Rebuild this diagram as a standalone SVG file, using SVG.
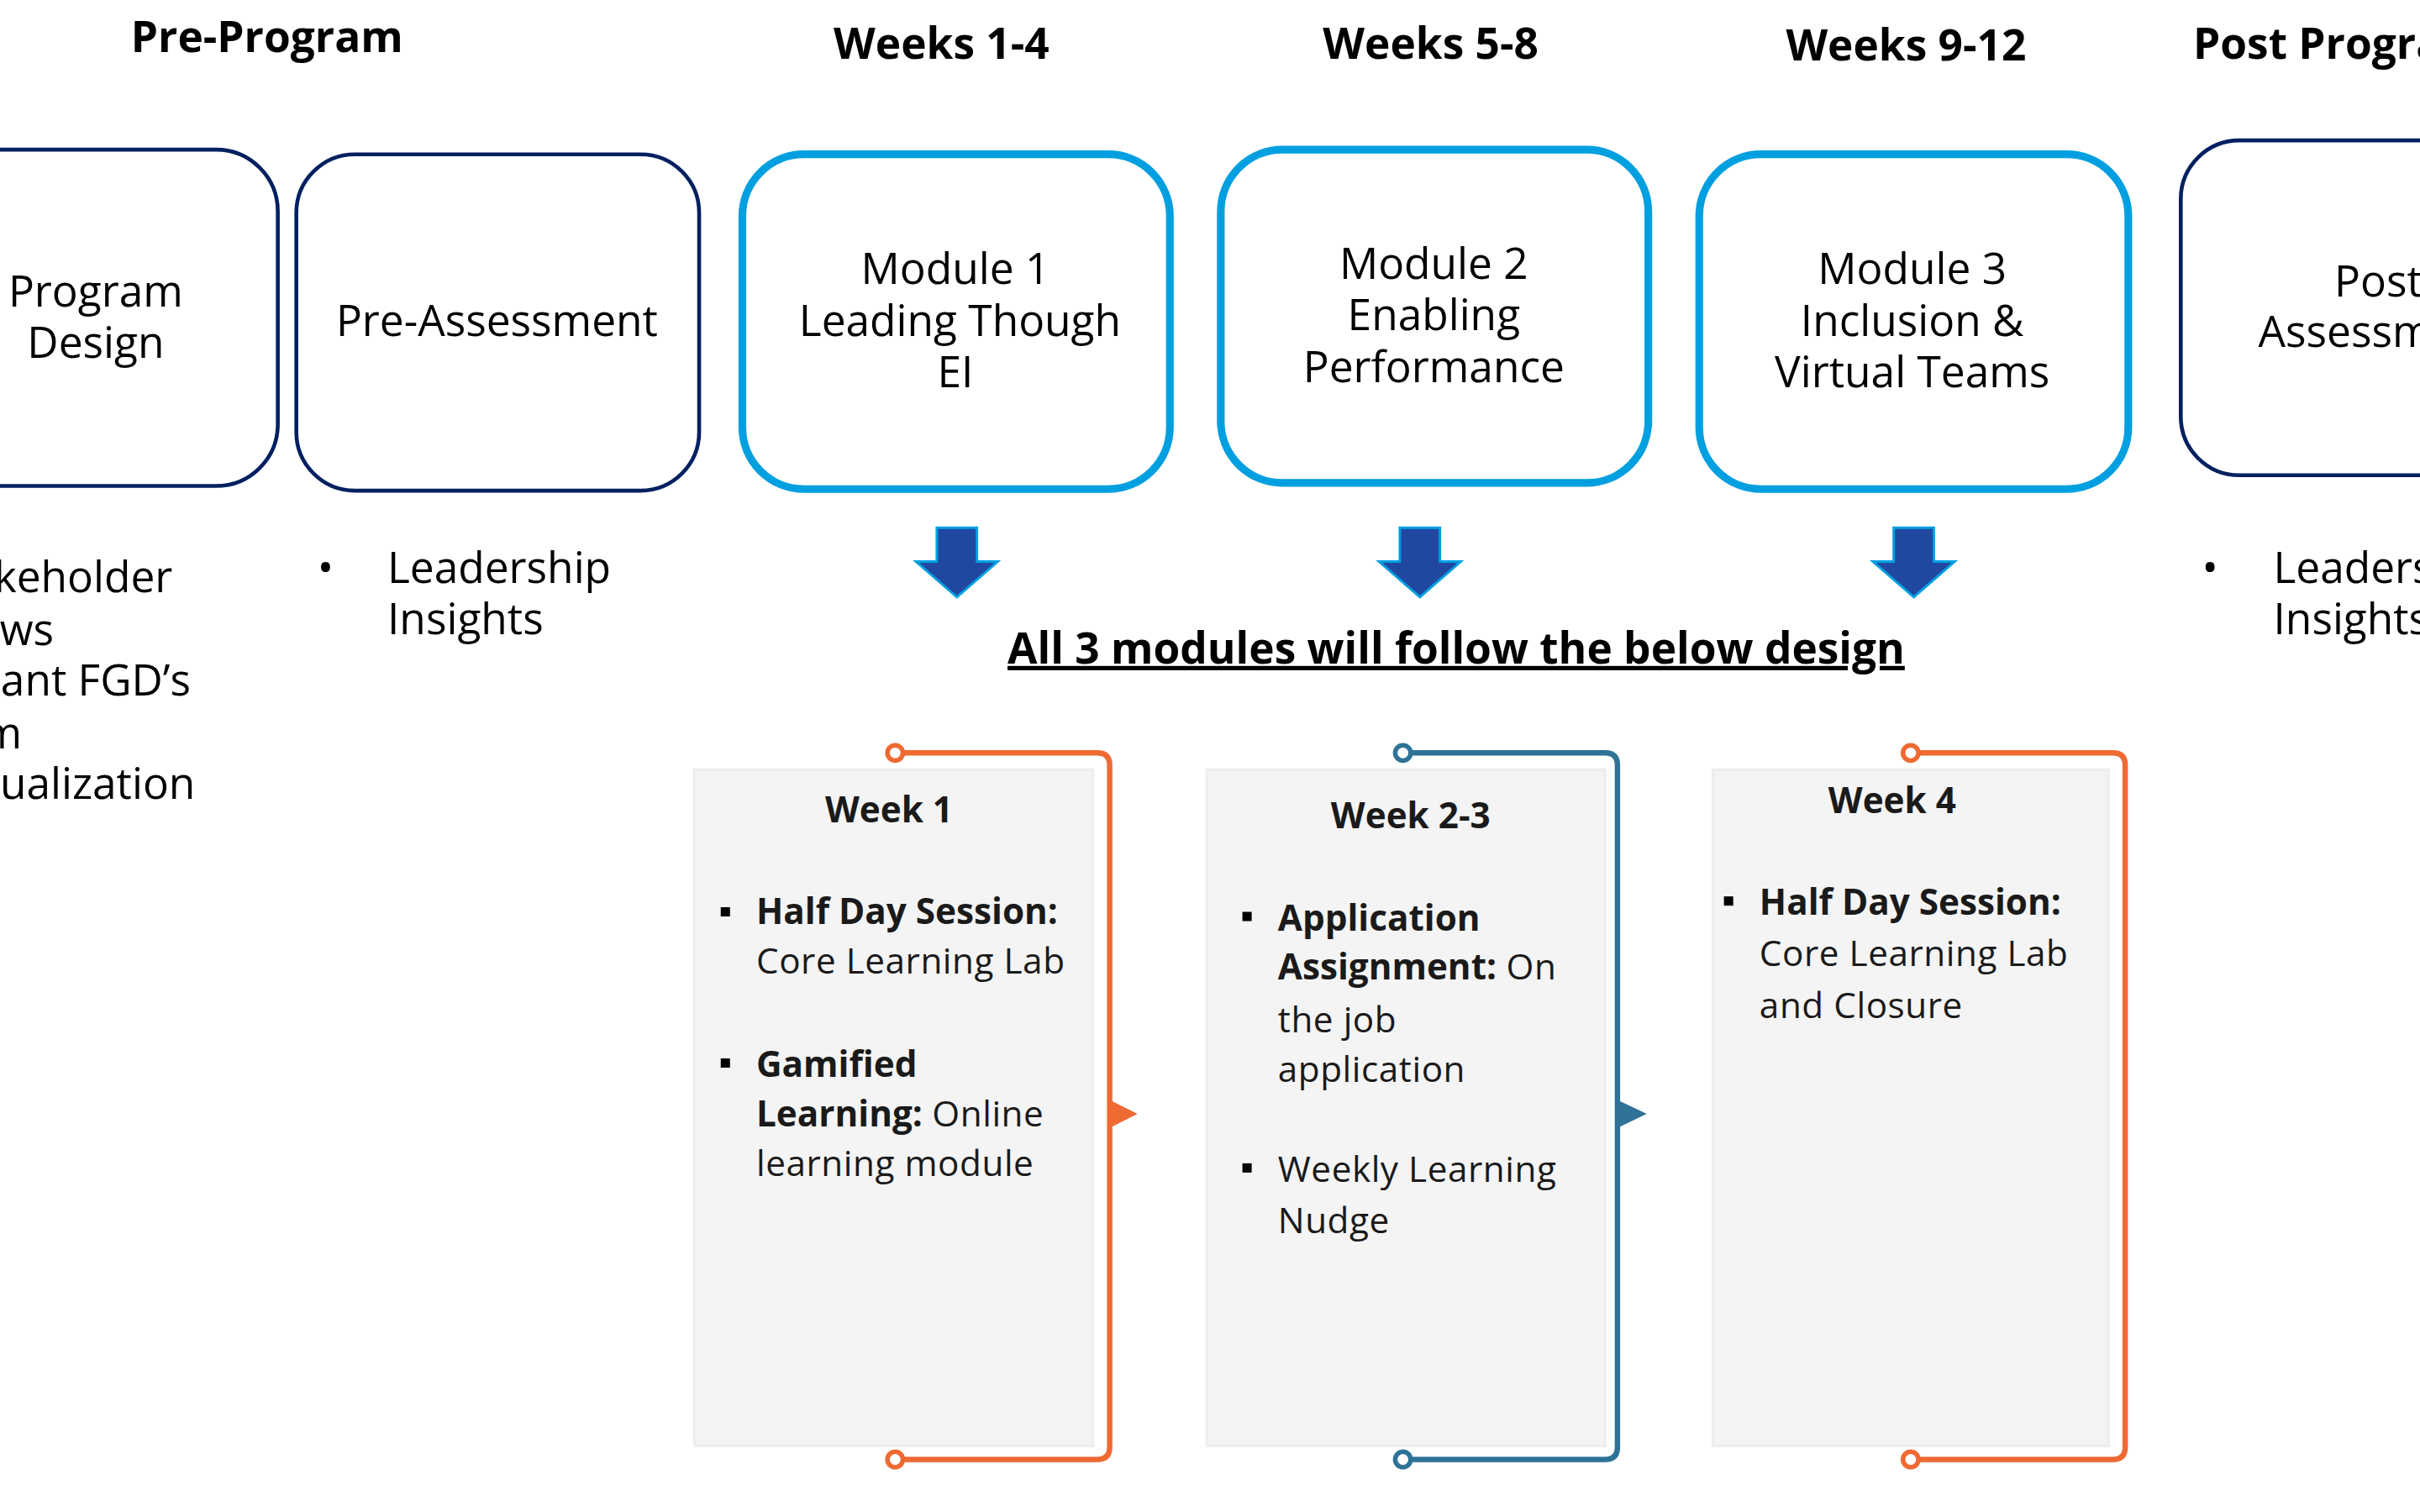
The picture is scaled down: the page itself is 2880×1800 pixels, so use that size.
<svg xmlns="http://www.w3.org/2000/svg" width="2880" height="1800" viewBox="0 0 2880 1800">
<style>
text{font-family:"Open Sans","Liberation Sans",sans-serif;fill:#000}
.hd{font-size:28px;font-weight:700}
.bx{font-size:28px}
.ct{font-size:23px;fill:#1a1a1a;letter-spacing:0.3px}
.b{font-weight:700;letter-spacing:0}
.navy{fill:#fff;stroke:#002060;stroke-width:2.5}
.mod{fill:#fff;stroke:#009FE0;stroke-width:5}
.arr{fill:#2148A0;stroke:#00A0E3;stroke-width:1.6}
.card{fill:#F4F4F4;stroke:#EEEEEE;stroke-width:2}
.or{fill:none;stroke:#EE6A32;stroke-width:3.5}
.tl{fill:none;stroke:#2E7396;stroke-width:3.5}
.dot{fill:#fff;stroke-width:3}
</style>
<rect width="2880" height="1800" fill="#fff"/>
<g transform="scale(1.836735)">
<g id="headers">
<text class="hd" x="173" y="34" text-anchor="middle">Pre-Program</text>
<text class="hd" x="610" y="38" text-anchor="middle">Weeks 1-4</text>
<text class="hd" x="927" y="38" text-anchor="middle">Weeks 5-8</text>
<text class="hd" x="1235" y="39" text-anchor="middle">Weeks 9-12</text>
<text class="hd" x="1421" y="38">Post Program</text>
</g>
<g id="program-design">
<rect class="navy" x="-90" y="97" width="270" height="218" rx="40"/>
<text class="bx" x="62" y="199" text-anchor="middle">Program</text>
<text class="bx" x="62" y="232" text-anchor="middle">Design</text>
</g>
<g id="pre-assessment">
<rect class="navy" x="192" y="100" width="261" height="218" rx="38"/>
<text class="bx" x="322" y="218" text-anchor="middle">Pre-Assessment</text>
</g>
<g id="module1">
<rect class="mod" x="481" y="100" width="277" height="217" rx="40"/>
<text class="bx" x="619" y="184" text-anchor="middle">Module 1</text>
<text class="bx" x="622" y="218" text-anchor="middle">Leading Though</text>
<text class="bx" x="619" y="251" text-anchor="middle">EI</text>
</g>
<g id="module2">
<rect class="mod" x="791" y="97" width="277" height="216" rx="40"/>
<text class="bx" x="929" y="181" text-anchor="middle">Module 2</text>
<text class="bx" x="929" y="214" text-anchor="middle">Enabling</text>
<text class="bx" x="929" y="248" text-anchor="middle">Performance</text>
</g>
<g id="module3">
<rect class="mod" x="1101" y="100" width="278" height="217" rx="40"/>
<text class="bx" x="1239" y="184" text-anchor="middle">Module 3</text>
<text class="bx" x="1239" y="218" text-anchor="middle">Inclusion &amp;</text>
<text class="bx" x="1239" y="251" text-anchor="middle">Virtual Teams</text>
</g>
<g id="post-assessment">
<rect class="navy" x="1413" y="91" width="260" height="217" rx="38"/>
<text class="bx" x="1541" y="192" text-anchor="middle">Post</text>
<text class="bx" x="1541" y="225" text-anchor="middle">Assessment</text>
</g>
<g id="pre-program-list">
<text class="bx" x="-99" y="384">Key Stakeholder</text>
<text class="bx" x="-99" y="418">Interviews</text>
<text class="bx" x="-98" y="451">Participant FGD’s</text>
<text class="bx" x="-99" y="485">Program</text>
<text class="bx" x="-102" y="518">Contextualization</text>
</g>
<g id="pre-assessment-list">
<text class="bx" x="211" y="378" text-anchor="middle">•</text>
<text class="bx" x="251" y="378">Leadership</text>
<text class="bx" x="251" y="411">Insights</text>
</g>
<g id="post-list">
<text class="bx" x="1432" y="378" text-anchor="middle">•</text>
<text class="bx" x="1473" y="378">Leadership</text>
<text class="bx" x="1473" y="411">Insights</text>
</g>
<g id="connectors">
<path class="arr" d="M607,342 H633 V364 H646.5 L620,387 L593.5,364 H607 Z"/>
<path class="arr" d="M907,342 H933 V364 H946.5 L920,387 L893.5,364 H907 Z"/>
<path class="arr" d="M1227,342 H1253 V364 H1266.5 L1240,387 L1213.5,364 H1227 Z"/>
</g>
<g id="caption">
<text class="hd" x="943.5" y="430" text-anchor="middle" text-decoration="underline">All 3 modules will follow the below design</text>
</g>
<g id="week1">
<rect class="card" x="450" y="499" width="258" height="438"/>
<path class="or" d="M585,488 H711 Q719,488 719,496 V938 Q719,946 711,946 H585"/>
<circle class="dot" cx="580" cy="488" r="5" stroke="#EE6A32"/>
<circle class="dot" cx="580" cy="946" r="5" stroke="#EE6A32"/>
<path d="M719,713 L737,722 L719,731 Z" fill="#EE6A32"/>
<text class="ct b" x="576" y="533" text-anchor="middle">Week 1</text>
<rect x="467" y="588" width="6" height="6" fill="#000"/>
<text class="ct" x="490" y="599"><tspan class="b">Half Day Session:</tspan></text>
<text class="ct" x="490" y="631">Core Learning Lab</text>
<rect x="467" y="686" width="6" height="6" fill="#000"/>
<text class="ct" x="490" y="698"><tspan class="b">Gamified</tspan></text>
<text class="ct" x="490" y="730"><tspan class="b">Learning:</tspan> Online</text>
<text class="ct" x="490" y="762">learning module</text>
</g>
<g id="week2-3">
<rect class="card" x="782" y="499" width="258" height="438"/>
<path class="tl" d="M914,488 H1040 Q1048,488 1048,496 V938 Q1048,946 1040,946 H914"/>
<circle class="dot" cx="909" cy="488" r="5" stroke="#2E7396"/>
<circle class="dot" cx="909" cy="946" r="5" stroke="#2E7396"/>
<path d="M1048,713 L1067,722 L1048,731 Z" fill="#2E7396"/>
<text class="ct b" x="914" y="537" text-anchor="middle">Week 2-3</text>
<rect x="805" y="591" width="6" height="6" fill="#000"/>
<text class="ct" x="828" y="603"><tspan class="b">Application</tspan></text>
<text class="ct" x="828" y="635"><tspan class="b">Assignment:</tspan> On</text>
<text class="ct" x="828" y="669">the job</text>
<text class="ct" x="828" y="701">application</text>
<rect x="805" y="754" width="6" height="6" fill="#000"/>
<text class="ct" x="828" y="766">Weekly Learning</text>
<text class="ct" x="828" y="799">Nudge</text>
</g>
<g id="week4">
<rect class="card" x="1110" y="499" width="256" height="438"/>
<path class="or" d="M1243,488 H1369 Q1377,488 1377,496 V938 Q1377,946 1369,946 H1243"/>
<circle class="dot" cx="1238" cy="488" r="5" stroke="#EE6A32"/>
<circle class="dot" cx="1238" cy="946" r="5" stroke="#EE6A32"/>
<text class="ct b" x="1226" y="527" text-anchor="middle">Week 4</text>
<rect x="1117" y="581" width="6" height="6" fill="#000"/>
<text class="ct" x="1140" y="593"><tspan class="b">Half Day Session:</tspan></text>
<text class="ct" x="1140" y="626">Core Learning Lab</text>
<text class="ct" x="1140" y="660">and Closure</text>
</g>
</g>
</svg>
